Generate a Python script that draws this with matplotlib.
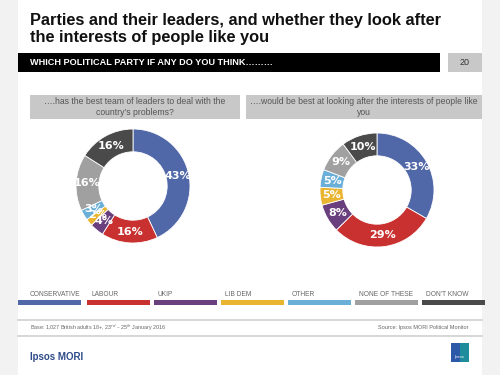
import matplotlib
matplotlib.use('Agg')

import numpy as np
import matplotlib.pyplot as plt
from matplotlib.patches import Rectangle

plt.rcParams['font.family'] = ['Liberation Sans', 'DejaVu Sans']

# ─── Data ───
parties = ['CONSERVATIVE', 'LABOUR', 'UKIP', 'LIB DEM', 'OTHER', 'NONE OF THESE', "DON'T KNOW"]
leaders_vals = [43, 16, 4, 2, 3, 16, 16]
interests_vals = [33, 29, 8, 5, 5, 9, 10]
party_colors = ['#5067a8', '#c8312f', '#6a3f7d', '#e9b531', '#6aafd8', '#a0a0a0', '#4a4a4a']
q_left = '….has the best team of leaders to deal with the\ncountry\u2019s problems?'
q_right = '….would be best at looking after the interests of people like\nyou'

W, H = 500, 375
fig = plt.figure(figsize=(W / 100, H / 100), dpi=100)
fig.patch.set_facecolor('#f2f2f2')


def fx(x):
    return x / W


def fy(y):
    return 1 - y / H


def box(x0, y0, x1, y1, color, **kw):
    fig.patches.append(Rectangle((fx(x0), fy(y1)), fx(x1 - x0), (y1 - y0) / H,
                                 transform=fig.transFigure, facecolor=color,
                                 edgecolor='none', zorder=-5, **kw))


# slide background
box(18, 0, 482, 375, 'white')

# ─── Header ───
fig.text(fx(30), fy(29), 'Parties and their leaders, and whether they look after\nthe interests of people like you',
         fontsize=11.8, fontweight='bold', color='#111111', va='center', ha='left',
         linespacing=1.22)
box(18, 53, 440, 72, 'black')
fig.text(fx(30), fy(62.5), 'WHICH POLITICAL PARTY IF ANY DO YOU THINK………', fontsize=6.6,
         fontweight='bold', color='white', va='center')
box(448, 53, 482, 72, '#c8c8c8')
fig.text(fx(465), fy(62.5), '20', fontsize=6.5, color='#333333', va='center', ha='center')

# ─── Question boxes ───
box(30, 95, 240, 119, '#c8c8c8')
fig.text(fx(135), fy(107), q_left, fontsize=6.2, color='#555555', ha='center', va='center')
box(246, 95, 482, 119, '#c8c8c8')
fig.text(fx(364), fy(107), q_right, fontsize=6.2, color='#555555', ha='center', va='center')


# ─── Donuts ───
def donut(cx, cy, r, vals):
    ax = fig.add_axes([fx(cx - r), fy(cy + r), 2 * r / W, 2 * r / H])
    wedges, _ = ax.pie(vals, colors=party_colors, startangle=90, counterclock=False,
                       wedgeprops=dict(width=0.4, edgecolor='white', linewidth=0.6))
    for w, v in zip(wedges, vals):
        ang = np.deg2rad((w.theta1 + w.theta2) / 2)
        ax.text(0.8 * np.cos(ang), 0.8 * np.sin(ang), f'{v}%', ha='center', va='center',
                color='white', fontsize=8, fontweight='bold', family='DejaVu Sans')
    ax.set_xlim(-1, 1)
    ax.set_ylim(-1, 1)
    ax.set_aspect('equal')
    ax.axis('off')


donut(133, 186, 57, leaders_vals)
donut(377, 190, 57, interests_vals)

# ─── Legend ───
seg_x = [18, 87, 154, 221, 288, 355, 422]
seg_w = 63
for x0, name, c in zip(seg_x, parties, party_colors):
    box(x0, 300, x0 + seg_w, 305, c)
    fig.text(fx(max(x0 + 4, 30)), fy(294), name, fontsize=4.8, color='#666666', va='center')

# ─── Footer ───
fig.lines.append(plt.Line2D([fx(18), fx(482)], [fy(320), fy(320)], transform=fig.transFigure,
                            color='#d0d0d0', linewidth=1.2))
fig.lines.append(plt.Line2D([fx(18), fx(482)], [fy(336), fy(336)], transform=fig.transFigure,
                            color='#d0d0d0', linewidth=1.2))
fig.text(fx(30), fy(328), 'Base: 1,027 British adults 18+, 23$^{rd}$ \u2013 25$^{th}$ January 2016',
         fontsize=3.9, color='#666666', va='center')
fig.text(fx(468), fy(328), 'Source: Ipsos MORI Political Monitor', fontsize=4.0,
         color='#666666', va='center', ha='right')
fig.text(fx(30), fy(357), 'Ipsos MORI', fontsize=7, fontweight='bold', color='#2e4a8a', va='center')
box(451, 343, 469, 362, '#2b59a8')
box(460, 343, 469, 362, '#1c9a9a', alpha=0.8)
fig.text(fx(460), fy(357), 'Ipsos', fontsize=3, color='white', ha='center', va='center')

fig.savefig('out.png', dpi=100, facecolor=fig.get_facecolor())
